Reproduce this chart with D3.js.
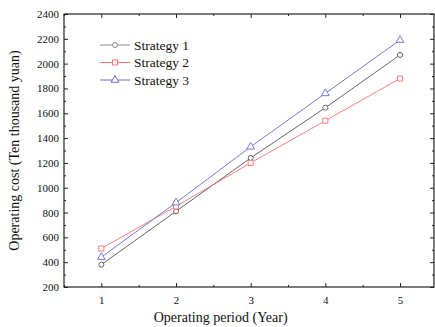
<!DOCTYPE html>
<html>
<head>
<meta charset="utf-8">
<script src="https://cdn.jsdelivr.net/npm/d3@7"></script>
<style>
  body { margin: 0; background: #fff; }
  text { font-family: "Liberation Serif", "Times New Roman", serif; fill: #111; }
</style>
</head>
<body>
<div class="chart"></div>
<script>
// data
var years = [1, 2, 3, 4, 5];
var strategy1 = [380, 810, 1240, 1645, 2070];
var strategy2 = [510, 850, 1200, 1540, 1880];
var strategy3 = [440, 880, 1330, 1760, 2190];
var seriesNames = ["Strategy 1", "Strategy 2", "Strategy 3"];
var yTicks = [200, 400, 600, 800, 1000, 1200, 1400, 1600, 1800, 2000, 2200, 2400];

var svgWidth = 435;
var svgHeight = 327;
var margin = { top: 14, right: 1, bottom: 40, left: 64 };
var width = svgWidth - margin.left - margin.right;
var height = svgHeight - margin.top - margin.bottom;

var svg = d3.select(".chart").append("svg")
  .attr("width", svgWidth)
  .attr("height", svgHeight);

var chartGroup = svg.append("g")
  .attr("transform", `translate(${margin.left}, ${margin.top})`);

var xScale = d3.scaleLinear().domain([0.5, 5.455]).range([0, width]);
var yScale = d3.scaleLinear().domain([200, 2400]).range([height, 0]);

var minorX = d3.range(0.5, 5.6, 0.5).filter(d => d % 1 !== 0);
var minorY = d3.range(300, 2400, 200);

// major + minor ticks, all pointing inward
function ticks(axisFn, scale, vals, len, labels) {
  return axisFn(scale).tickValues(vals).tickSizeInner(-len).tickSizeOuter(0)
    .tickFormat(labels ? d3.format("d") : "");
}

var bottom = chartGroup.append("g").attr("transform", `translate(0, ${height})`)
  .call(ticks(d3.axisBottom, xScale, years, 4, true));
chartGroup.append("g").attr("transform", `translate(0, ${height})`)
  .call(ticks(d3.axisBottom, xScale, minorX, 2, false));
chartGroup.append("g").call(ticks(d3.axisTop, xScale, years, 4, false));
chartGroup.append("g").call(ticks(d3.axisTop, xScale, minorX, 2, false));

var left = chartGroup.append("g").call(ticks(d3.axisLeft, yScale, yTicks, 4, true));
chartGroup.append("g").call(ticks(d3.axisLeft, yScale, minorY, 2, false));
chartGroup.append("g").attr("transform", `translate(${width}, 0)`)
  .call(ticks(d3.axisRight, yScale, yTicks, 4, false));
chartGroup.append("g").attr("transform", `translate(${width}, 0)`)
  .call(ticks(d3.axisRight, yScale, minorY, 2, false));

chartGroup.selectAll(".domain").remove();
chartGroup.selectAll(".tick line").attr("stroke", "#222");
bottom.selectAll(".tick text").attr("y", 9).style("font-size", "11px");
left.selectAll(".tick text").attr("x", -5).style("font-size", "11px");

// frame
chartGroup.append("rect")
  .attr("width", width).attr("height", height)
  .attr("fill", "none").attr("stroke", "#222").attr("stroke-width", 1.2);

var colors = ["#555", "#f47070", "#6a6ad0"];
var shapes = [d3.symbolCircle, d3.symbolSquare, d3.symbolTriangle];
var sizes = [20, 26, 26];
var allSeries = [strategy1, strategy2, strategy3];

var line = d3.line().x(d => xScale(d[0])).y(d => yScale(d[1]));

allSeries.forEach(function(vals, i) {
  var pts = years.map((y, j) => [y, vals[j]]);
  chartGroup.append("path").datum(pts)
    .attr("d", line).attr("fill", "none")
    .attr("stroke", colors[i]).attr("stroke-width", 0.9);
  chartGroup.selectAll(".m" + i).data(pts).enter().append("path")
    .attr("class", "m" + i)
    .attr("transform", d => `translate(${xScale(d[0])}, ${yScale(d[1])})`)
    .attr("d", d3.symbol().type(shapes[i]).size(sizes[i]))
    .attr("fill", "#fff").attr("stroke", colors[i]).attr("stroke-width", 0.9);
});

// legend
var legend = svg.append("g").attr("transform", "translate(100, 45)");
seriesNames.forEach(function(name, i) {
  var row = legend.append("g").attr("transform", `translate(0, ${i * 17.5})`);
  row.append("line").attr("x1", 0).attr("x2", 30).attr("y1", 0).attr("y2", 0)
    .attr("stroke", i === 0 ? "#888" : colors[i]);
  row.append("path").attr("transform", "translate(15, 0)")
    .attr("d", d3.symbol().type(shapes[i]).size(sizes[i]))
    .attr("fill", "#fff").attr("stroke", i === 0 ? "#888" : colors[i]);
  row.append("text").attr("x", 34).attr("y", 4.5)
    .style("font-size", "13.5px").text(name);
});

// axis titles
svg.append("text")
  .attr("x", margin.left + xScale(3) - 30).attr("y", 322)
  .attr("text-anchor", "middle").style("font-size", "14px")
  .text("Operating period (Year)");

svg.append("text")
  .attr("transform", `translate(19, ${margin.top + height / 2}) rotate(-90)`)
  .attr("text-anchor", "middle").style("font-size", "14px")
  .text("Operating cost (Ten thousand yuan)");
</script>
</body>
</html>
